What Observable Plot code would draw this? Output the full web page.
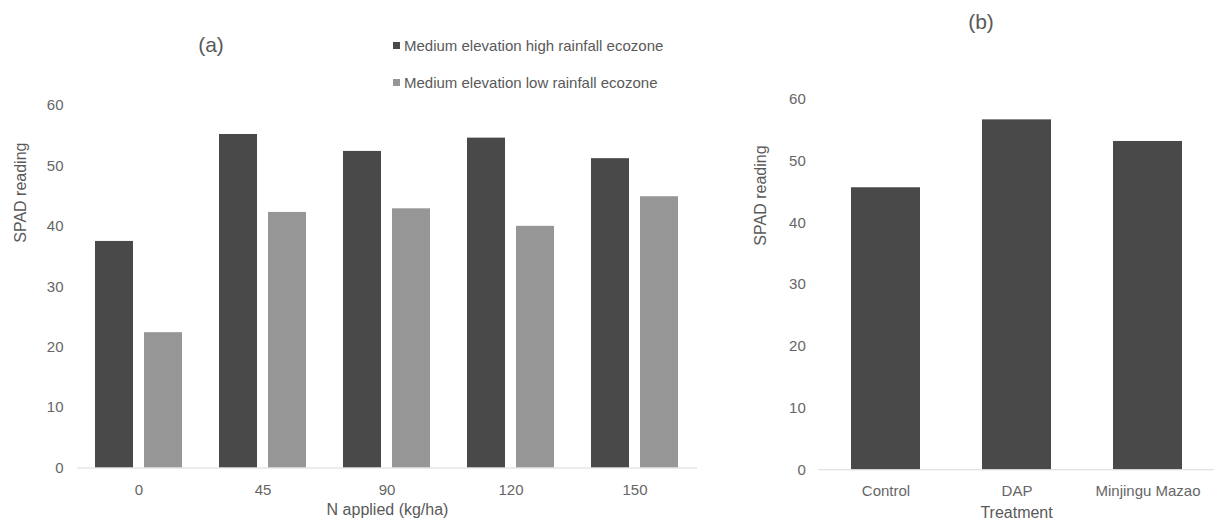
<!DOCTYPE html>
<html>
<head>
<meta charset="utf-8">
<script src="https://cdn.jsdelivr.net/npm/d3@7"></script>
<script src="https://cdn.jsdelivr.net/npm/@observablehq/plot@0.6"></script>
<style>
  body { margin: 0; background: #fff; font-family: "Liberation Sans", Arial, sans-serif; }
  #wrap { position: relative; width: 1218px; height: 522px; overflow: hidden; background: #fff; }
  #a, #b { position: absolute; top: 0; }
  #a { left: 0; }
  #b { left: 720px; }
  .ptitle { position: absolute; font-size: 21px; color: #595959; transform: translate(-50%, -50%); white-space: nowrap; }
  #legend { position: absolute; left: 393px; top: 35px; font-size: 15px; color: #595959; }
  .item { display: flex; align-items: center; height: 20px; margin-bottom: 17px; white-space: nowrap; }
  .sw { width: 7px; height: 7px; margin-right: 4px; }
</style>
</head>
<body>
<div id="wrap">
  <div id="a"></div>
  <div id="b"></div>
  <div class="ptitle" style="left:211px;top:45px">(a)</div>
  <div class="ptitle" style="left:981px;top:22px">(b)</div>
  <div id="legend"></div>
</div>
<script>
// ---- data ----
const nApplied = ["0", "45", "90", "120", "150"];
const seriesNames = ["Medium elevation high rainfall ecozone", "Medium elevation low rainfall ecozone"];
const highRainfall = [37.5, 55.2, 52.4, 54.6, 51.2];
const lowRainfall = [22.4, 42.3, 42.9, 40.0, 44.9];
const treatments = ["Control", "DAP", "Minjingu Mazao"];
const treatmentSpad = [45.7, 56.7, 53.2];
const yTicks = [0, 10, 20, 30, 40, 50, 60];
const seriesColors = ["#494949", "#969696"];
const xLabelA = "N applied (kg/ha)";
const xLabelB = "Treatment";
const yLabel = "SPAD reading";

const font = '"Liberation Sans", Arial, sans-serif';
const textColor = "#595959";

const highRows = nApplied.map((n, i) => ({n, v: highRainfall[i], s: seriesNames[0]}));
const lowRows = nApplied.map((n, i) => ({n, v: lowRainfall[i], s: seriesNames[1]}));
const treatRows = treatments.map((t, i) => ({t, v: treatmentSpad[i]}));

// ---- chart (a) ----
const chartA = Plot.plot({
  width: 710, height: 522,
  marginLeft: 77, marginRight: 13, marginTop: 105, marginBottom: 54.5,
  style: {fontFamily: font, fontSize: "15px", color: textColor, background: "transparent", overflow: "visible"},
  x: {domain: nApplied, paddingInner: 0.295, paddingOuter: 0.1475, label: null},
  y: {domain: [0, 60], label: null},
  color: {domain: seriesNames, range: seriesColors},
  marks: [
    Plot.axisY({ticks: yTicks, tickSize: 0, tickPadding: 14, label: null, fill: "#666"}),
    Plot.axisX({tickSize: 0, tickPadding: 16, label: null, fill: "#666"}),
    Plot.barY(highRows, {x: "n", y: "v", fill: "s", insetRight: 49}),
    Plot.barY(lowRows, {x: "n", y: "v", fill: "s", insetLeft: 49}),
    Plot.ruleY([0], {stroke: "#d9d9d9", strokeWidth: 1}),
    Plot.text([xLabelA], {frameAnchor: "bottom", dy: 47, fontSize: 16, fill: textColor}),
    Plot.text([yLabel], {frameAnchor: "left", rotate: -90, dx: -57, dy: -44, fontSize: 16, fill: textColor})
  ]
});
document.getElementById("a").append(chartA);

// ---- chart (b) ----
const chartB = Plot.plot({
  width: 498, height: 522,
  marginLeft: 98.3, marginRight: 4.2, marginTop: 99, marginBottom: 52.7,
  style: {fontFamily: font, fontSize: "15px", color: textColor, background: "transparent", overflow: "visible"},
  x: {domain: treatments, paddingInner: 0.477, paddingOuter: 0.2385, label: null},
  y: {domain: [0, 60], label: null},
  marks: [
    Plot.axisY({ticks: yTicks, tickSize: 0, tickPadding: 13, label: null, fill: "#666"}),
    Plot.axisX({tickSize: 0, tickPadding: 16, label: null, fill: "#666"}),
    Plot.barY(treatRows, {x: "t", y: "v", fill: seriesColors[0]}),
    Plot.ruleY([0], {stroke: "#d9d9d9", strokeWidth: 1}),
    Plot.text([xLabelB], {frameAnchor: "bottom", dy: 48.5, fontSize: 16, fill: textColor}),
    Plot.text([yLabel], {frameAnchor: "left", rotate: -90, dx: -58.3, dy: -39, fontSize: 16, fill: textColor})
  ]
});
document.getElementById("b").append(chartB);

// ---- legend ----
const legend = document.getElementById("legend");
seriesNames.forEach((name, i) => {
  const item = document.createElement("div");
  item.className = "item";
  const sw = document.createElement("span");
  sw.className = "sw";
  sw.style.background = seriesColors[i];
  const label = document.createElement("span");
  label.textContent = name;
  item.append(sw, label);
  legend.append(item);
});
</script>
</body>
</html>
